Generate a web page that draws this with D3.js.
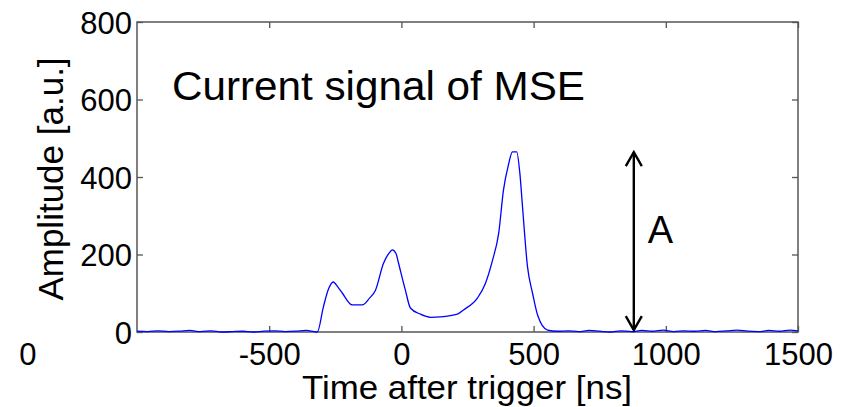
<!DOCTYPE html>
<html>
<head>
<meta charset="utf-8">
<script src="https://cdn.jsdelivr.net/npm/d3@7"></script>
<style>
  body { margin: 0; background: #fff; }
  text { font-family: "Liberation Sans", Arial, sans-serif; fill: #000; }
</style>
</head>
<body>
<div id="chart"></div>
<script>
// Signal samples (time in ns, amplitude in a.u.)
var timeNs = [-1000, -960, -920, -880, -840, -800, -760, -720, -680, -640, -600, -560, -520, -480, -440, -400, -360, -330, -318,
  -295, -275, -258, -240, -223, -186, -148, -120, -98, -68, -45, -34, -20, -11, 15, 34, 72, 110, 148, 212, 235, 288, 318, 345, 368,
  386, 405, 420, 436, 448, 458, 477, 496, 515, 553, 591, 630, 670, 710, 750, 790, 830, 870, 910, 950, 990, 1030, 1070, 1110,
  1150, 1190, 1230, 1270, 1310, 1350, 1390, 1430, 1470, 1500];
var amplitude = [2, 1, 3, 1, 2, 4, 1, 3, 0, 1, 2, 0, 2, 3, 1, 2, 4, 1, 0,
  65, 112, 129, 116, 100, 70, 70, 88, 108, 177, 205, 212, 202, 178, 108, 62, 46, 38, 39, 46, 57, 88, 126, 186, 255,
  366, 432, 465, 465, 410, 324, 168, 100, 44, 5, 2, 3, 1, 4, 2, 0, 3, 1, 4, 2, 5, 1, 3, 2,
  4, 1, 3, 5, 2, 1, 4, 2, 5, 3];

var xTicks = [-500, 0, 500, 1000, 1500];
var yTicks = [0, 200, 400, 600, 800];
var xDomain = [-1000, 1500];
var yDomain = [0, 800];

// Annotation: amplitude arrow
var arrowTime = 879;
var arrowFrom = 5;
var arrowTo = 464;

var svgWidth = 859;
var svgHeight = 407;

var margin = {
  top: 22,
  right: 61,
  bottom: 75,
  left: 137
};

var chartWidth = svgWidth - margin.left - margin.right;
var chartHeight = svgHeight - margin.top - margin.bottom;

var svg = d3.select("#chart")
  .append("svg")
  .attr("width", svgWidth)
  .attr("height", svgHeight);

var chartGroup = svg.append("g")
  .attr("transform", `translate(${margin.left}, ${margin.top})`);

var xScale = d3.scaleLinear().domain(xDomain).range([0, chartWidth]);
var yScale = d3.scaleLinear().domain(yDomain).range([chartHeight, 0]);

var axisColor = "#555";

// bottom axis with labels, inward ticks (plain hyphen for minus)
var bottomAxis = d3.axisBottom(xScale)
  .tickValues(xTicks)
  .tickSizeInner(-6)
  .tickSizeOuter(0)
  .tickFormat(d => String(d));

var leftAxis = d3.axisLeft(yScale)
  .tickValues(yTicks)
  .tickSizeInner(-6)
  .tickSizeOuter(0)
  .tickPadding(5)
  .tickFormat(d => String(d));

var gx = chartGroup.append("g")
  .attr("transform", `translate(0, ${chartHeight})`)
  .call(bottomAxis);

var gy = chartGroup.append("g")
  .call(leftAxis);

// top and right mirrored ticks, no labels
var gt = chartGroup.append("g")
  .call(d3.axisTop(xScale).tickValues(xTicks).tickSizeInner(-6).tickSizeOuter(0).tickFormat(""));
var gr = chartGroup.append("g")
  .attr("transform", `translate(${chartWidth}, 0)`)
  .call(d3.axisRight(yScale).tickValues(yTicks).tickSizeInner(-6).tickSizeOuter(0).tickFormat(""));

[gx, gy, gt, gr].forEach(function(g) {
  g.select(".domain").remove();
  g.selectAll("line").attr("stroke", axisColor).attr("stroke-width", 1.3);
  g.selectAll("text")
    .style("font-family", "'Liberation Sans', Arial, sans-serif")
    .style("font-size", "31px")
    .attr("fill", "#000");
});
gx.selectAll("text").attr("dy", null).attr("y", 33);
gy.selectAll("text").attr("dy", "0.36em");

// the box
chartGroup.append("rect")
  .attr("x", 0)
  .attr("y", 0)
  .attr("width", chartWidth)
  .attr("height", chartHeight)
  .attr("fill", "none")
  .attr("stroke", axisColor)
  .attr("stroke-width", 1.5);

// stray "0" at the far left of the x tick row
chartGroup.append("text")
  .attr("x", xScale(-1413))
  .attr("y", chartHeight + 33)
  .attr("text-anchor", "middle")
  .style("font-size", "31px")
  .text("0");

// signal
var points = timeNs.map(function(t, i) { return [t, amplitude[i]]; });

var drawLine = d3.line()
  .curve(d3.curveMonotoneX)
  .x(d => xScale(d[0]))
  .y(d => yScale(d[1]));

chartGroup.append("path")
  .datum(points)
  .attr("d", drawLine)
  .attr("fill", "none")
  .attr("stroke", "#0000ff")
  .attr("stroke-width", 1.3);

// double arrow
var ax = xScale(arrowTime);
var ay1 = yScale(arrowTo);
var ay2 = yScale(arrowFrom);
var arrow = chartGroup.append("g")
  .attr("stroke", "#000")
  .attr("stroke-width", 2.4)
  .attr("fill", "none");
arrow.append("line").attr("x1", ax).attr("x2", ax).attr("y1", ay1).attr("y2", ay2);
arrow.append("path").attr("d", `M${ax - 8},${ay1 + 14}L${ax},${ay1}L${ax + 8},${ay1 + 14}`);
arrow.append("path").attr("d", `M${ax - 8},${ay2 - 14}L${ax},${ay2}L${ax + 8},${ay2 - 14}`);

chartGroup.append("text")
  .attr("x", ax + 14)
  .attr("y", yScale(229))
  .style("font-size", "38px")
  .text("A");

// title inside the plot
chartGroup.append("text")
  .attr("x", 35)
  .attr("y", 78)
  .attr("textLength", 413)
  .attr("lengthAdjust", "spacingAndGlyphs")
  .style("font-size", "40px")
  .text("Current signal of MSE");

// axis labels
chartGroup.append("text")
  .attr("x", 330)
  .attr("y", chartHeight + 67)
  .attr("text-anchor", "middle")
  .attr("textLength", 330)
  .attr("lengthAdjust", "spacingAndGlyphs")
  .style("font-size", "33px")
  .text("Time after trigger [ns]");

chartGroup.append("text")
  .attr("transform", "rotate(-90)")
  .attr("x", -157)
  .attr("y", -74)
  .attr("text-anchor", "middle")
  .style("font-size", "35px")
  .text("Amplitude [a.u.]");
</script>
</body>
</html>
